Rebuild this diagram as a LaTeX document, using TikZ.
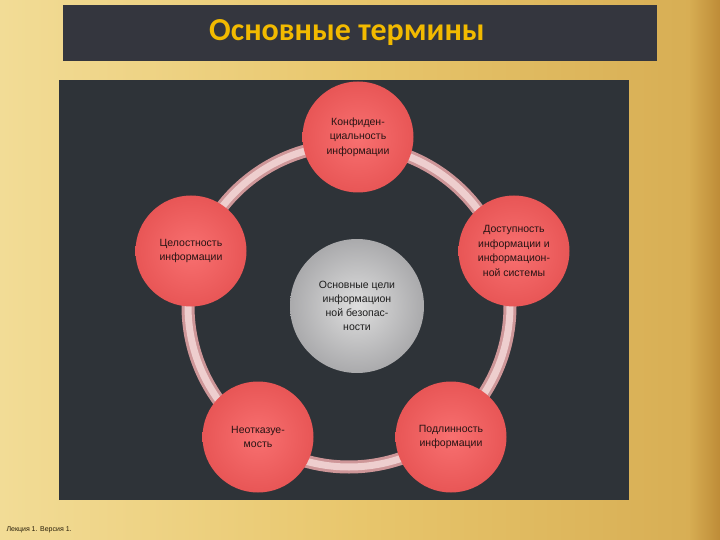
\documentclass[tikz,border=0pt]{standalone}
\usepackage{fontspec}
\setmainfont{Liberation Sans}
\newfontfamily\titlefont{Carlito}
\definecolor{petalin}{RGB}{248,112,112}
\definecolor{petalout}{RGB}{232,86,86}
\definecolor{petaltext}{RGB}{40,20,20}
\definecolor{hubin}{RGB}{222,222,222}
\definecolor{hubout}{RGB}{170,170,172}
\definecolor{hubtext}{RGB}{30,30,30}
\definecolor{ringc}{RGB}{206,150,152}
\definecolor{ringh}{RGB}{238,206,206}
\definecolor{goldL}{RGB}{242,220,150}
\definecolor{goldM}{RGB}{232,198,108}
\definecolor{goldR}{RGB}{214,172,82}
\definecolor{goldE}{RGB}{190,140,55}
\definecolor{barc}{RGB}{52,54,62}
\definecolor{titlec}{RGB}{242,186,0}
\definecolor{panelc}{RGB}{46,51,56}
\definecolor{footc}{RGB}{40,30,10}
\begin{document}
\begin{tikzpicture}[x=1pt,y=-1pt,
  petal/.style={circle,minimum size=111pt,inner sep=0pt,align=center,
    inner color=petalin,outer color=petalout,
    font=\fontsize{10.5}{14.5}\selectfont,text=petaltext},
  hub/.style={circle,minimum size=134pt,inner sep=0pt,align=center,
    inner color=hubin,outer color=hubout,
    font=\fontsize{10.5}{14}\selectfont,text=hubtext},
  ring/.style={line width=13pt,draw=ringc},
  ringhi/.style={line width=7pt,draw=ringh}]
\useasboundingbox (0,0) rectangle (720,540);
% background
\shade[left color=goldL,right color=goldR,middle color=goldM] (0,0) rectangle (720,540);
\shade[left color=goldR,right color=goldE] (690,0) rectangle (720,540);
% title bar
\fill[barc] (63,5) rectangle (657,61);
\node[font=\titlefont\bfseries\fontsize{32}{34}\selectfont,text=titlec] (title) at (347,33) {Основные термины};
% image panel
\fill[panelc] (59,80) rectangle (629,500);
% ring
\coordinate (c) at (349,306);
\draw[ring] (c) circle[radius=161];
\draw[ringhi] (c) circle[radius=161];
% nodes
\node[petal] (conf) at (358,137) {Конфиден-\\циальность\\информации};
\node[petal] (integ) at (191,251) {Целостность\\информации};
\node[petal] (avail) at (514,251) {Доступность\\информации и\\информацион-\\ной системы};
\node[petal] (nonrep) at (258,437) {Неотказуе-\\мость};
\node[petal] (auth) at (451,437) {Подлинность\\информации};
\node[hub] (goal) at (357,306) {Основные цели\\информацион\\ной безопас-\\ности};
% footer
\node[anchor=west,font=\fontsize{7}{8}\selectfont,text=footc] (foot) at (3,530) {Лекция 1. Версия 1.};
\end{tikzpicture}
\end{document}
